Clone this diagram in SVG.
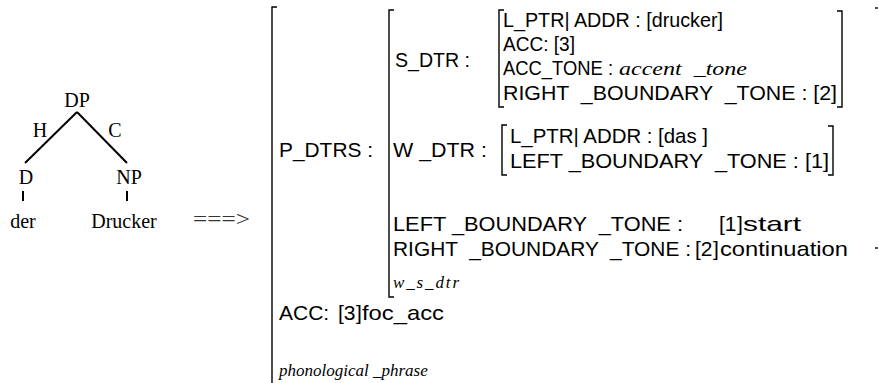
<svg xmlns="http://www.w3.org/2000/svg" width="879" height="383" viewBox="0 0 879 383">
<style>
.t{font-family:"Times New Roman","Liberation Serif",serif;font-size:20px;fill:#000}
.s{font-family:"Liberation Sans",Arial,sans-serif;font-size:21px;fill:#000;white-space:pre}
.i{font-family:"Times New Roman","Liberation Serif",serif;font-style:italic;font-size:17px;fill:#000;white-space:pre}
.ln{stroke:#000;stroke-width:2;fill:none}
.br{stroke:#000;stroke-width:1.4;fill:none}
</style>
<rect width="879" height="383" fill="#fff"/>
<g id="tree">
<g id="connectors">
<line class="ln" x1="77" y1="112" x2="25" y2="163"/>
<line class="ln" x1="77" y1="112" x2="127" y2="163"/>
<line class="ln" x1="23" y1="191" x2="23" y2="201"/>
<line class="ln" x1="127" y1="191" x2="127" y2="201"/>
</g>
<g id="n-DP"><text class="t" x="77" y="107" text-anchor="middle">DP</text></g>
<g id="l-H"><text class="t" x="40" y="137" text-anchor="middle">H</text></g>
<g id="l-C"><text class="t" x="115" y="137" text-anchor="middle">C</text></g>
<g id="n-D"><text class="t" x="26" y="184" text-anchor="middle">D</text></g>
<g id="n-NP"><text class="t" x="129" y="184" text-anchor="middle">NP</text></g>
<g id="n-der"><text class="t" x="23" y="228" text-anchor="middle">der</text></g>
<g id="n-Drucker"><text class="t" x="124" y="228" text-anchor="middle">Drucker</text></g>
</g>
<g id="arrow"><text class="t" x="193" y="226" textLength="57" lengthAdjust="spacingAndGlyphs" style="fill:#333">===&gt;</text></g>
<g id="avm">
<g id="brackets">
<path class="br" d="M277,7 H272 V383"/>
<path class="br" d="M394,10 H389 V297 H394"/>
<path class="br" d="M504,10 H499 V107 H504"/>
<path class="br" d="M837,11 H842 V107 H837"/>
<path class="br" d="M507,125 H502 V175 H507"/>
<path class="br" d="M828,126 H833 V175 H828"/>
<path class="br" d="M875,8 H878"/>
<path class="br" d="M875,248 H878"/>
</g>
<g id="s-dtr">
<text class="s" x="395" y="67" textLength="75" lengthAdjust="spacingAndGlyphs">S_DTR :</text>
<text class="s" x="503" y="27" textLength="220" lengthAdjust="spacingAndGlyphs">L_PTR| ADDR : [drucker]</text>
<text class="s" x="503" y="51" textLength="72" lengthAdjust="spacingAndGlyphs">ACC: [3]</text>
<text class="s" x="503" y="75" textLength="110" lengthAdjust="spacingAndGlyphs">ACC_TONE :</text>
<text class="i" x="619" y="75" style="font-size:19px" textLength="128" lengthAdjust="spacingAndGlyphs">accent  _tone</text>
<text class="s" x="503" y="100" textLength="334" lengthAdjust="spacingAndGlyphs">RIGHT  _BOUNDARY  _TONE : [2]</text>
</g>
<g id="w-dtr">
<text class="s" x="393" y="157" textLength="94" lengthAdjust="spacingAndGlyphs">W _DTR :</text>
<text class="s" x="510" y="143" textLength="198" lengthAdjust="spacingAndGlyphs">L_PTR| ADDR : [das ]</text>
<text class="s" x="510" y="168" textLength="319" lengthAdjust="spacingAndGlyphs">LEFT _BOUNDARY  _TONE : [1]</text>
</g>
<g id="p-dtrs">
<text class="s" x="279" y="157" textLength="94" lengthAdjust="spacingAndGlyphs">P_DTRS :</text>
<text class="s" x="393" y="231" textLength="290" lengthAdjust="spacingAndGlyphs">LEFT _BOUNDARY  _TONE :</text>
<text class="s" x="719" y="231">[1</text>
<text class="s" x="737" y="231">]</text>
<text class="s" x="743" y="231" textLength="58" lengthAdjust="spacingAndGlyphs">start</text>
<text class="s" x="393" y="256" textLength="298" lengthAdjust="spacingAndGlyphs">RIGHT  _BOUNDARY  _TONE :</text>
<text class="s" x="695" y="256">[2</text>
<text class="s" x="713" y="256">]</text>
<text class="s" x="720" y="256" textLength="128" lengthAdjust="spacingAndGlyphs">continuation</text>
<text class="i" x="393" y="288" textLength="66">w_s_dtr</text>
</g>
<g id="phrase">
<text class="s" x="279" y="320">ACC:</text>
<text class="s" x="338" y="320">[3</text>
<text class="s" x="356" y="320">]</text>
<text class="s" x="362" y="320" textLength="82" lengthAdjust="spacingAndGlyphs">foc_acc</text>
<text class="i" x="279" y="376">phonological _phrase</text>
</g>
</g>
</svg>
